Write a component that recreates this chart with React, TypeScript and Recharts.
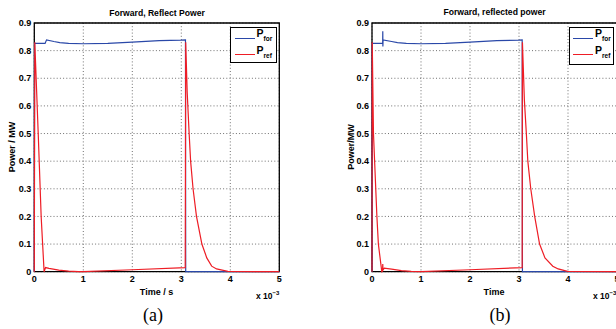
import React from "react";
import { LineChart, Line, XAxis, YAxis, CartesianGrid, ReferenceArea } from "recharts";

// time axis is in units of 1e-3 s, power in MW
const timeTicks = [0, 1, 2, 3, 4, 5];
const powerTicks = [0, 0.1, 0.2, 0.3, 0.4, 0.5, 0.6, 0.7, 0.8, 0.9];

// (a) Forward, Reflect Power
const forTimeA = [0, 0.005, 0.22, 0.25, 0.4, 0.52, 0.7, 1.0, 1.5, 2.0, 2.55, 3.0, 3.085, 3.09, 5];
const forPowerA = [0, 0.826, 0.826, 0.839, 0.833, 0.829, 0.826, 0.825, 0.826, 0.831, 0.836, 0.838, 0.839, 0, 0];
const refTimeA = [0, 0.01, 0.08, 0.14, 0.2, 0.23, 0.3, 0.5, 0.7, 0.9, 1.0, 2.0, 3.08, 3.09, 3.12, 3.16, 3.19, 3.24, 3.31, 3.42, 3.52, 3.62, 3.72, 3.95, 5];
const refPowerA = [0, 0.83, 0.5, 0.2, 0, 0.015, 0.012, 0.006, 0.002, 0.0005, 0, 0.007, 0.015, 0.83, 0.65, 0.5, 0.4, 0.3, 0.2, 0.1, 0.05, 0.02, 0.01, 0.001, 0];

// (b) Forward, reflected power
const forTimeB = [0, 0.005, 0.218, 0.22, 0.222, 0.226, 0.4, 0.52, 0.7, 1.0, 1.5, 2.0, 2.55, 3.0, 3.065, 3.07, 5];
const forPowerB = [0, 0.826, 0.826, 0.87, 0.815, 0.839, 0.833, 0.829, 0.826, 0.825, 0.826, 0.831, 0.836, 0.838, 0.839, 0, 0];
const refTimeB = [0, 0.005, 0.03, 0.1, 0.13, 0.2, 0.215, 0.22, 0.223, 0.25, 0.4, 0.6, 0.8, 1.0, 2.0, 3.065, 3.07, 3.11, 3.15, 3.18, 3.24, 3.32, 3.42, 3.53, 3.69, 3.8, 3.99, 5];
const refPowerB = [0, 0.83, 0.5, 0.2, 0.1, 0, 0.002, 0.028, 0.006, 0.013, 0.009, 0.004, 0.001, 0, 0.007, 0.015, 0.83, 0.62, 0.5, 0.4, 0.3, 0.2, 0.1, 0.05, 0.02, 0.01, 0.001, 0];

const BLUE = "#2a48a8";
const RED = "#ee1d25";
const FONT = "'Liberation Sans', Arial, sans-serif";

const zip = (ts: number[], ps: number[]) => ts.map((t, i) => ({ t, p: ps[i] }));

const tickStyle = { fill: "#000", fontSize: 9, fontWeight: 700, fontFamily: FONT };

type PlotProps = {
  left: number;
  width: number;
  yAxisWidth: number;
  forward: { t: number; p: number }[];
  reflected: { t: number; p: number }[];
};

const Plot = ({ left, width, yAxisWidth, forward, reflected }: PlotProps) => (
  <div style={{ position: "absolute", left, top: 0 }}>
    <LineChart
      width={width}
      height={329}
      margin={{ top: 23, right: width - yAxisWidth - 245, bottom: 37.3, left: 0 }}
    >
      <CartesianGrid stroke="#707070" strokeDasharray="1 2.2" horizontalValues={powerTicks} verticalValues={timeTicks} />
      <XAxis
        dataKey="t"
        type="number"
        domain={[0, 5]}
        ticks={timeTicks}
        height={20}
        tickLine={false}
        tickSize={0}
        tickMargin={4}
        axisLine={false}
        tick={tickStyle}
        allowDuplicatedCategory={false}
      />
      <YAxis
        type="number"
        domain={[0, 0.9]}
        ticks={powerTicks}
        width={yAxisWidth}
        tickLine={false}
        tickSize={0}
        tickMargin={3}
        axisLine={false}
        tick={tickStyle}
        interval={0}
      />
      <Line data={forward} dataKey="p" type="linear" stroke={BLUE} strokeWidth={1.2} dot={false} isAnimationActive={false} />
      <Line data={reflected} dataKey="p" type="linear" stroke={RED} strokeWidth={1.2} dot={false} isAnimationActive={false} />
      <ReferenceArea x1={0} x2={5} y1={0} y2={0.9} fill="none" stroke="#000" strokeWidth={1.3} fillOpacity={0} />
    </LineChart>
  </div>
);

const LegendBox = ({ left, width, height }: { left: number; width: number; height: number }) => (
  <div
    style={{
      position: "absolute",
      left,
      top: 26.5,
      width,
      height,
      boxSizing: "border-box",
      border: "1.4px solid #000",
      background: "#fff",
      fontFamily: FONT,
      fontWeight: 700,
    }}
  >
    {[
      { color: BLUE, sub: "for", y: 10 },
      { color: RED, sub: "ref", y: 26.5 },
    ].map((row) => (
      <div key={row.sub}>
        <div style={{ position: "absolute", left: 3.5, top: row.y, width: 20, height: 1.3, background: row.color }} />
        <div style={{ position: "absolute", left: 25.5, top: row.y - 10.5, fontSize: 10.5, lineHeight: "12px" }}>
          P<span style={{ fontSize: 6.5, position: "relative", top: 4 }}>{row.sub}</span>
        </div>
      </div>
    ))}
  </div>
);

const Label = ({ x, y, text, size = 9, bold = true, rotate = false, serif = false }: any) => (
  <div
    style={{
      position: "absolute",
      left: x,
      top: y,
      transform: `translate(-50%, -50%)${rotate ? " rotate(-90deg)" : ""}`,
      whiteSpace: "nowrap",
      fontSize: size,
      fontWeight: bold ? 700 : 400,
      fontFamily: serif ? "'Liberation Serif', 'DejaVu Serif', serif" : FONT,
      lineHeight: 1,
    }}
  >
    {text}
  </div>
);

const Scale = ({ x }: { x: number }) => (
  <div style={{ position: "absolute", left: x, top: 292, fontFamily: FONT, fontWeight: 700, fontSize: 8.5, whiteSpace: "nowrap", lineHeight: 1 }}>
    x 10<span style={{ fontSize: 6, position: "relative", top: -4 }}>−3</span>
  </div>
);

export default function App() {
  return (
    <div style={{ position: "relative", width: 616, height: 329, overflow: "hidden", background: "#fff" }}>
      <style>{`body{margin:0}`}</style>
      <Plot left={0} width={310} yAxisWidth={34.3} forward={zip(forTimeA, forPowerA)} reflected={zip(refTimeA, refPowerA)} />
      <Plot left={306} width={330} yAxisWidth={66} forward={zip(forTimeB, forPowerB)} reflected={zip(refTimeB, refPowerB)} />
      <LegendBox left={230} width={47} height={36.5} />
      <LegendBox left={568.5} width={45} height={38.5} />
      <Label x={157} y={12.5} text="Forward, Reflect Power" size={8.6} />
      <Label x={494.5} y={12} text="Forward, reflected power" size={8.6} />
      <Label x={12} y={146.5} text="Power / MW" rotate />
      <Label x={351} y={147} text="Power/MW" rotate />
      <Label x={156.5} y={291.5} text="Time / s" />
      <Label x={494} y={291.5} text="Time" />
      <Scale x={256} />
      <Scale x={593} />
      <Label x={153} y={315} text="(a)" size={18} bold={false} serif />
      <Label x={500} y={315} text="(b)" size={18} bold={false} serif />
    </div>
  );
}
